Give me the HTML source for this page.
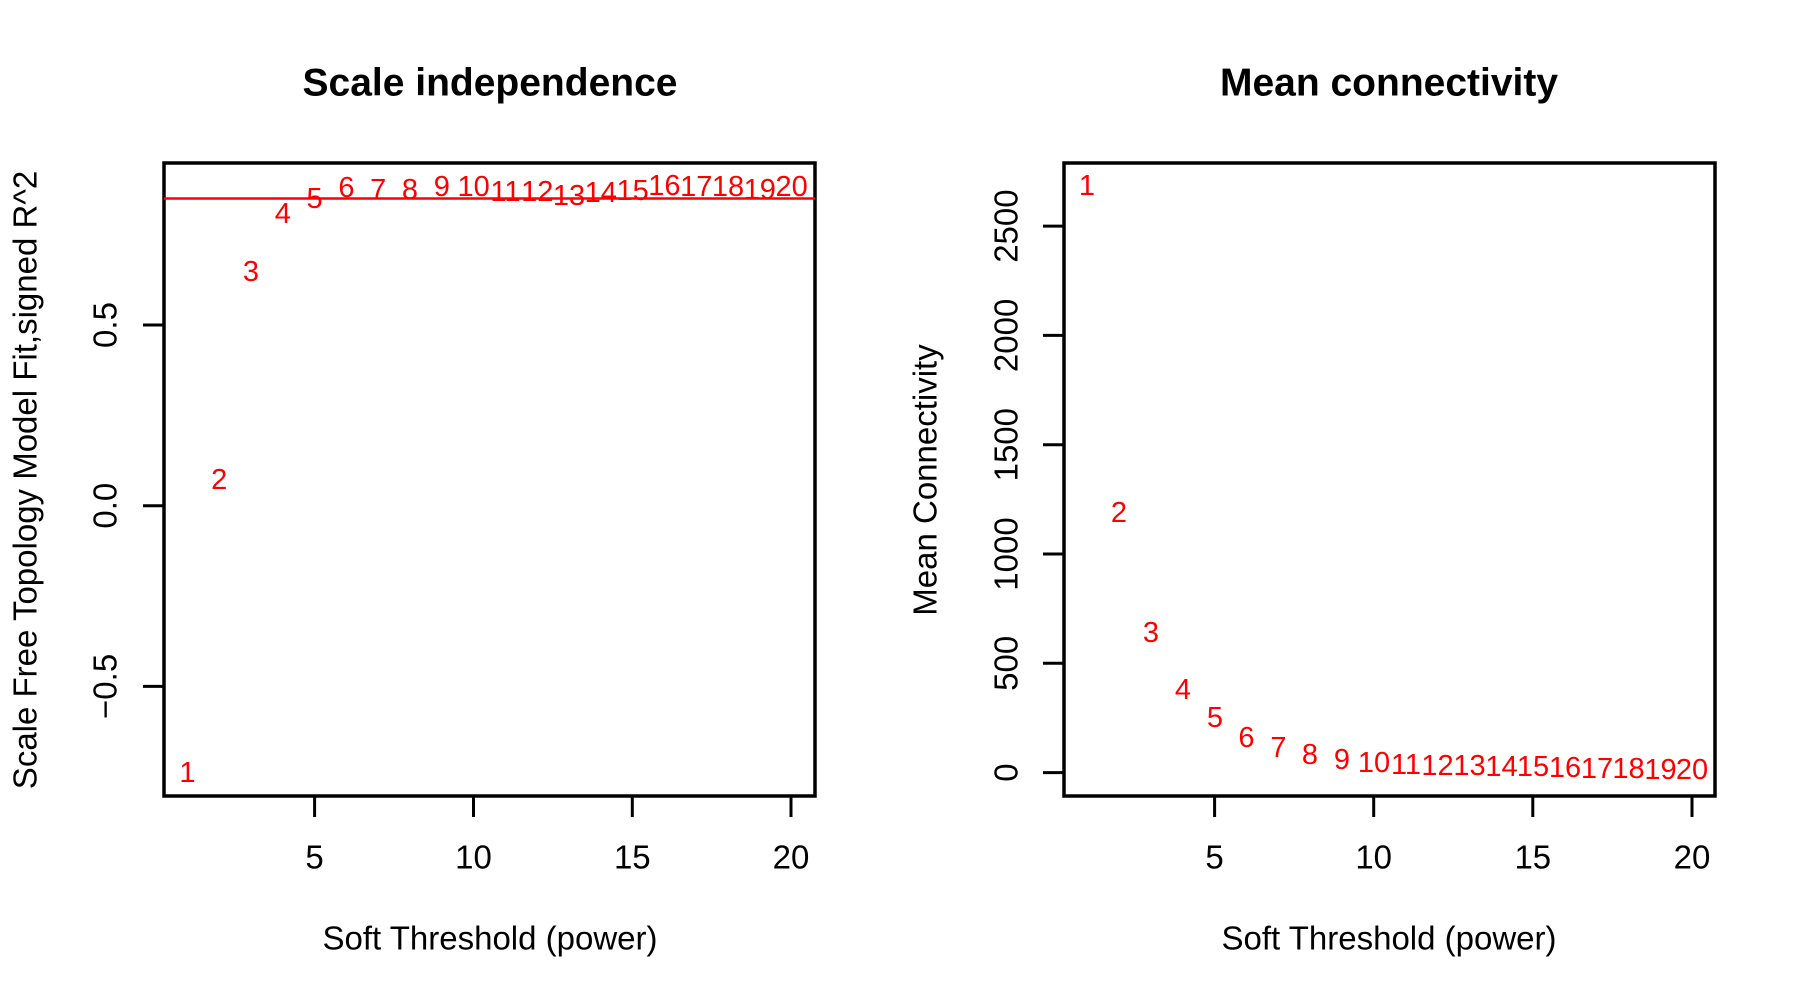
<!DOCTYPE html>
<html><head><meta charset="utf-8"><style>
html,body{margin:0;padding:0;background:#fff;}
svg{display:block;}
text{font-family:"Liberation Sans",Arial,sans-serif;}
</style></head><body>
<svg width="1800" height="1000" viewBox="0 0 1800 1000" xmlns="http://www.w3.org/2000/svg">
<rect width="1800" height="1000" fill="#fff"/>
<!-- Left panel -->
<text x="490" y="83" font-size="39" font-weight="bold" text-anchor="middle" dominant-baseline="central">Scale independence</text>
<rect x="164" y="163" width="651" height="633" fill="none" stroke="#000" stroke-width="3.5"/>
<line x1="164" y1="198.5" x2="815" y2="198.5" stroke="#f00" stroke-width="2.5"/>
<g stroke="#000" stroke-width="3">
<line x1="314.6" y1="796" x2="314.6" y2="817"/><line x1="473.5" y1="796" x2="473.5" y2="817"/><line x1="632.3" y1="796" x2="632.3" y2="817"/><line x1="791" y1="796" x2="791" y2="817"/>
<line x1="164" y1="325" x2="143" y2="325"/><line x1="164" y1="505.7" x2="143" y2="505.7"/><line x1="164" y1="686.4" x2="143" y2="686.4"/>
</g>
<g font-size="33" text-anchor="middle" dominant-baseline="central">
<text x="314.6" y="857">5</text><text x="473.5" y="857">10</text><text x="632.3" y="857">15</text><text x="791" y="857">20</text>
<text transform="translate(105,325) rotate(-90)">0.5</text>
<text transform="translate(105,505.7) rotate(-90)">0.0</text>
<text transform="translate(105,686.4) rotate(-90)">−0.5</text>
<text x="490" y="938">Soft Threshold (power)</text>
<text transform="translate(25,480) rotate(-90)">Scale Free Topology Model Fit,signed R^2</text>
</g>
<g font-size="29" fill="#f00" text-anchor="middle" dominant-baseline="central">
<text x="187.4" y="773">1</text><text x="219.2" y="480">2</text><text x="251" y="272">3</text><text x="282.8" y="214">4</text><text x="314.6" y="199">5</text>
<text x="346.4" y="188">6</text><text x="378.2" y="190">7</text><text x="410" y="190">8</text><text x="441.8" y="187">9</text><text x="473.6" y="187">10</text>
<text x="505.4" y="192">11</text><text x="537.2" y="192">12</text><text x="569" y="196">13</text><text x="600.8" y="193">14</text><text x="632.6" y="191">15</text>
<text x="664.4" y="186">16</text><text x="696.2" y="187">17</text><text x="728" y="187">18</text><text x="759.8" y="190">19</text><text x="791.6" y="187">20</text>
</g>
<!-- Right panel -->
<text x="1389" y="83" font-size="39" font-weight="bold" text-anchor="middle" dominant-baseline="central">Mean connectivity</text>
<rect x="1064" y="163" width="651" height="633" fill="none" stroke="#000" stroke-width="3.5"/>
<g stroke="#000" stroke-width="3">
<line x1="1214.6" y1="796" x2="1214.6" y2="817"/><line x1="1373.7" y1="796" x2="1373.7" y2="817"/><line x1="1532.8" y1="796" x2="1532.8" y2="817"/><line x1="1692" y1="796" x2="1692" y2="817"/>
<line x1="1064" y1="772.6" x2="1043" y2="772.6"/><line x1="1064" y1="663.3" x2="1043" y2="663.3"/><line x1="1064" y1="554" x2="1043" y2="554"/><line x1="1064" y1="444.7" x2="1043" y2="444.7"/><line x1="1064" y1="335.4" x2="1043" y2="335.4"/><line x1="1064" y1="226.1" x2="1043" y2="226.1"/>
</g>
<g font-size="33" text-anchor="middle" dominant-baseline="central">
<text x="1214.6" y="857">5</text><text x="1373.7" y="857">10</text><text x="1532.8" y="857">15</text><text x="1692" y="857">20</text>
<text transform="translate(1006,772.6) rotate(-90)">0</text>
<text transform="translate(1006,663.3) rotate(-90)">500</text>
<text transform="translate(1006,554) rotate(-90)">1000</text>
<text transform="translate(1006,444.7) rotate(-90)">1500</text>
<text transform="translate(1006,335.4) rotate(-90)">2000</text>
<text transform="translate(1006,226.1) rotate(-90)">2500</text>
<text x="1389" y="938">Soft Threshold (power)</text>
<text transform="translate(925,480) rotate(-90)">Mean Connectivity</text>
</g>
<g font-size="29" fill="#f00" text-anchor="middle" dominant-baseline="central">
<text x="1087" y="186">1</text><text x="1119" y="513">2</text><text x="1151" y="633">3</text><text x="1183" y="690">4</text><text x="1215" y="718">5</text>
<text x="1246.5" y="738">6</text><text x="1278.5" y="748">7</text><text x="1310" y="755">8</text><text x="1342" y="760">9</text><text x="1374" y="763">10</text>
<text x="1406" y="765">11</text><text x="1437.5" y="766">12</text><text x="1469.5" y="766">13</text><text x="1501.5" y="767">14</text><text x="1533" y="767">15</text>
<text x="1565" y="768">16</text><text x="1597" y="769">17</text><text x="1628.5" y="769">18</text><text x="1660.5" y="770">19</text><text x="1692" y="770">20</text>
</g>
</svg>
</body></html>
